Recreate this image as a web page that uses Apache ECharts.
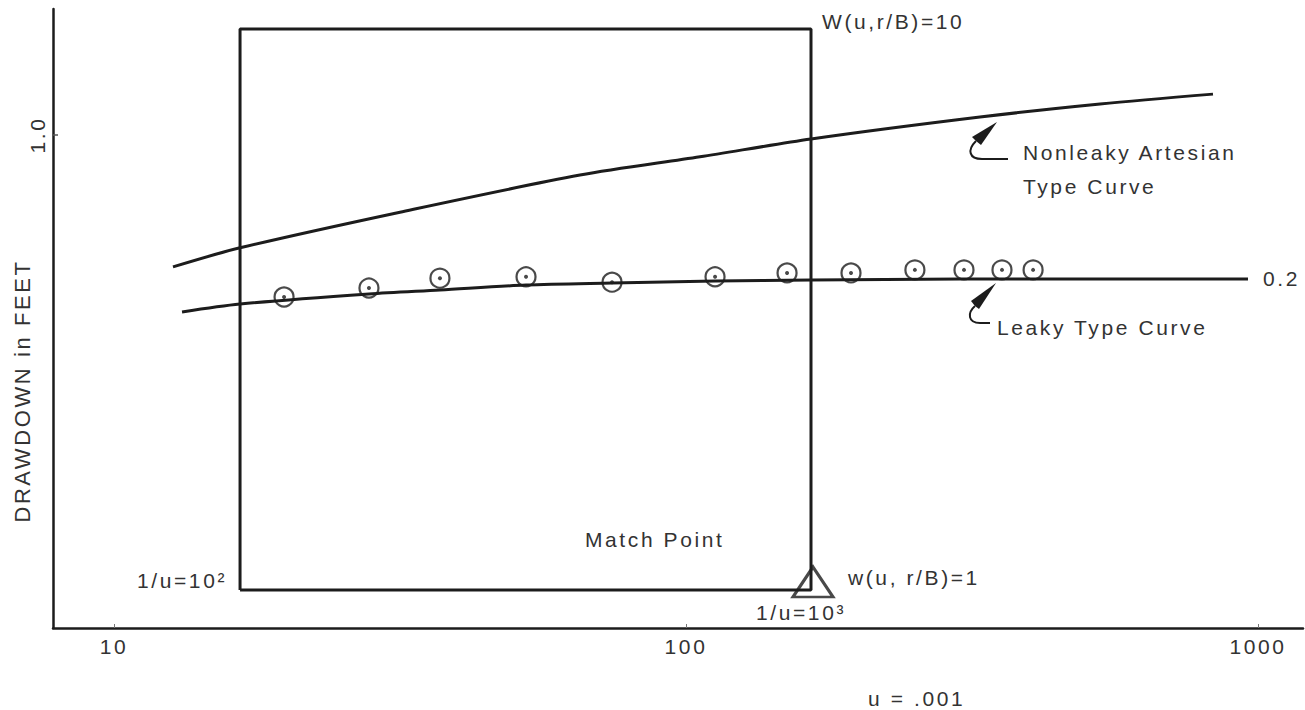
<!DOCTYPE html>
<html>
<head>
<meta charset="utf-8">
<script src="https://cdn.jsdelivr.net/npm/echarts@6/dist/echarts.min.js"></script>
<style>
  html, body { margin: 0; padding: 0; background: #fff; }
  #chart { width: 1305px; height: 710px; }
  /* old phototypeset lettering is wide, so open up the spacing a bit */
  #chart text { letter-spacing: 2.6px; }
</style>
</head>
<body>
<div id="chart"></div>
<script>
// axis ticks (log-log type curve paper)
const xTicks = [10, 100, 1000];
const yTicks = [1.0];

// nonleaky artesian type curve (Theis)
const nonleakyX = [12.68, 16.61, 31.62, 65.26, 105.8, 165.4, 326.6, 529.6, 834.3];
const nonleakyY = [0.588, 0.635, 0.733, 0.851, 0.916, 0.984, 1.075, 1.133, 1.179];

// leaky type curve, r/B = 0.2
const leakyX = [13.15, 16.61, 27.91, 37.14, 52.52, 74.25, 112.4, 165.4, 301.3, 960.5];
const leakyY = [0.4905, 0.5064, 0.5273, 0.5358, 0.5467, 0.5511, 0.5555, 0.5577, 0.560, 0.560];

// observed drawdowns
const obsX = [19.83, 27.91, 37.14, 52.52, 74.25, 112.4, 150.2, 194.3, 251.3, 306.2, 356.8, 404.4];
const obsY = [0.521, 0.540, 0.562, 0.565, 0.553, 0.565, 0.574, 0.574, 0.581, 0.581, 0.581, 0.581];

// overlay sheet outline and match point
const boxX = [16.61, 165.4];
const boxY = [0.1601, 1.532];
const matchPoint = [165.4, 0.1601];

const INK = '#1c1c1c';
const TXT = '#333';
const FONT = 'Liberation Sans, Arial, sans-serif';
const FS = 21;

const zip = (xs, ys) => xs.map((x, i) => [x, ys[i]]);
const boxData = [
  [boxX[0], boxY[0]], [boxX[0], boxY[1]], [boxX[1], boxY[1]],
  [boxX[1], boxY[0]], [boxX[0], boxY[0]]
];

const chart = echarts.init(document.getElementById('chart'), null, { renderer: 'svg' });

const label = (text, x, y, extra = {}, rotation = 0) => ({
  type: 'text', x, y, rotation, silent: true,
  style: Object.assign({
    text, fill: TXT, fontSize: FS, fontFamily: FONT,
    align: 'left', verticalAlign: 'middle'
  }, extra)
});

chart.setOption({
  animation: false,
  backgroundColor: '#fff',
  grid: { left: 53, right: 2, top: 9, bottom: 82 },
  xAxis: {
    type: 'log',
    logBase: 10,
    min: 7.823,
    max: 1198.6,
    axisLine: { lineStyle: { color: INK, width: 2.5 } },
    axisTick: { inside: true, length: 4, customValues: xTicks, lineStyle: { color: '#777', width: 1 } },
    axisLabel: {
      customValues: xTicks, color: TXT, fontSize: FS, fontFamily: FONT, margin: 8,
      formatter: v => String(Math.round(v))
    },
    minorTick: { show: false },
    splitLine: { show: false }
  },
  yAxis: {
    type: 'log',
    logBase: 10,
    min: 0.1374,
    max: 1.661,
    axisLine: { lineStyle: { color: INK, width: 2.5 } },
    axisTick: { inside: true, length: 5, customValues: yTicks, lineStyle: { color: '#555', width: 1.5 } },
    axisLabel: {
      customValues: yTicks, rotate: 90, color: TXT, fontSize: FS, fontFamily: FONT, margin: 5,
      formatter: v => Number(v).toFixed(1)
    },
    splitLine: { show: false }
  },
  series: [
    {
      name: 'Nonleaky Artesian Type Curve', type: 'line', data: zip(nonleakyX, nonleakyY),
      smooth: 0.3, symbol: 'none', silent: true,
      lineStyle: { color: INK, width: 3 }
    },
    {
      name: 'Leaky Type Curve', type: 'line', data: zip(leakyX, leakyY),
      smooth: 0.3, symbol: 'none', silent: true,
      lineStyle: { color: INK, width: 3 }
    },
    {
      name: 'Overlay', type: 'line', data: boxData,
      symbol: 'none', silent: true,
      lineStyle: { color: INK, width: 3 }
    },
    {
      name: 'Observed', type: 'scatter', data: zip(obsX, obsY),
      symbol: 'circle', symbolSize: 19, silent: true,
      itemStyle: { color: 'rgba(0,0,0,0)', borderColor: INK, borderWidth: 2.2 }
    },
    {
      name: 'Observed centre', type: 'scatter', data: zip(obsX, obsY),
      symbol: 'circle', symbolSize: 4, silent: true,
      itemStyle: { color: INK }
    },
    {
      name: 'Match Point', type: 'scatter', data: [matchPoint],
      symbol: 'triangle', symbolSize: [40, 30], symbolOffset: [2, -8], silent: true,
      itemStyle: { color: 'rgba(0,0,0,0)', borderColor: INK, borderWidth: 3 }
    }
  ],
  graphic: [
    label('DRAWDOWN in FEET', 22, 391, { align: 'center', fontSize: 22 }, Math.PI / 2),
    label('W(u,r/B)=10', 822, 21),
    label('Nonleaky Artesian', 1023, 152),
    label('Type Curve', 1023, 186),
    label('0.2', 1263, 278),
    label('Leaky Type Curve', 997, 327),
    label('Match Point', 585, 539),
    label('1/u=10²', 137, 580),
    label('w(u, r/B)=1', 848, 577),
    label('1/u=10³', 756, 612),
    label('u = .001', 868, 698),
    // curly pointer to the nonleaky curve
    { type: 'polygon', silent: true, shape: { points: [[997, 122], [972, 137], [976, 141], [981, 145]] }, style: { fill: INK } },
    { type: 'bezierCurve', silent: true, shape: { x1: 976, y1: 141, cpx1: 967, cpy1: 150, cpx2: 969, cpy2: 159, x2: 982, y2: 159 }, style: { stroke: INK, lineWidth: 2, fill: 'none' } },
    { type: 'line', silent: true, shape: { x1: 982, y1: 159, x2: 1008, y2: 159 }, style: { stroke: INK, lineWidth: 2 } },
    // curly pointer to the leaky curve
    { type: 'polygon', silent: true, shape: { points: [[996, 283], [971, 301], [975, 306], [979, 309]] }, style: { fill: INK } },
    { type: 'bezierCurve', silent: true, shape: { x1: 975, y1: 306, cpx1: 967, cpy1: 313, cpx2: 968, cpy2: 323, x2: 980, y2: 323 }, style: { stroke: INK, lineWidth: 2, fill: 'none' } },
    { type: 'line', silent: true, shape: { x1: 980, y1: 323, x2: 990, y2: 323 }, style: { stroke: INK, lineWidth: 2 } }
  ]
});

window.addEventListener('resize', () => chart.resize());
</script>
</body>
</html>
